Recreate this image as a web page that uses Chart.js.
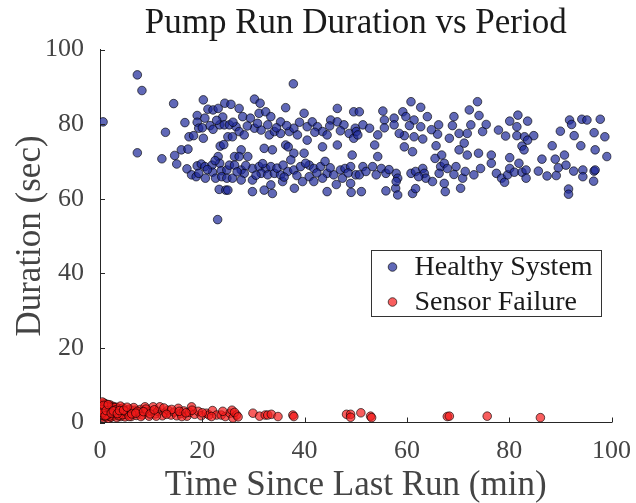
<!DOCTYPE html>
<html>
<head>
<meta charset="utf-8">
<script src="https://cdn.jsdelivr.net/npm/chart.js@4.4.1/dist/chart.umd.min.js"></script>
<style>
  html, body { margin: 0; padding: 0; background: #fff; }
</style>
</head>
<body>
<canvas id="chart" width="636" height="503"></canvas>
<script>
// time since last run (min), duration (sec)
const healthyPoints = [
  [0.6,80.6],[7.3,93.2],[8.2,89.0],[7.3,72.3],[12.8,77.8],[12.1,70.7],[14.4,85.5],[15.0,69.3],[14.6,71.6],[15.9,73.1],
  [17.2,73.3],[16.6,80.4],[17.4,76.6],[18.3,76.9],[19.0,82.3],[19.0,80.5],[19.3,78.9],[20.2,76.2],[20.2,86.5],[20.5,81.6],
  [21.1,84.0],[22.1,83.8],[23.1,84.2],[24.4,85.6],[21.5,79.6],[22.1,78.6],[23.4,79.8],[24.0,81.9],[24.3,79.8],[23.5,74.1],
  [24.2,74.5],[25.0,76.6],[17.0,68.0],[17.9,66.4],[18.8,65.9],[19.0,68.8],[19.3,66.8],[19.8,69.3],[20.5,68.6],[20.6,65.5],
  [21.9,69.0],[22.0,67.1],[22.6,65.5],[23.1,71.3],[23.4,69.5],[23.7,67.5],[23.8,65.9],[24.8,67.7],[24.8,65.5],[23.3,62.5],
  [24.6,62.3],[23.0,54.4],
  [30.2,86.7],[31.3,85.6],[27.2,84.2],[25.6,85.3],[36.3,84.4],[37.8,90.8],[39.9,82.9],[46.4,84.2],[49.6,83.3],[27.9,82.0],
  [29.4,81.6],[31.1,82.9],[32.4,83.3],[33.4,82.0],[35.3,80.6],[25.3,79.8],[26.6,79.3],[27.2,78.0],[25.9,76.6],[28.2,77.1],
  [30.2,78.9],[31.5,78.4],[32.8,79.8],[33.1,77.1],[34.1,78.0],[35.3,77.5],[37.0,78.0],[37.9,78.9],[38.6,77.1],[40.5,79.3],
  [41.5,80.6],[42.5,79.3],[43.5,78.0],[44.4,77.1],[45.1,81.1],[46.4,80.6],[47.7,79.8],[48.7,77.5],[49.6,76.2],[49.9,78.9],
  [40.5,75.7],[43.5,73.9],[46.4,74.4],[36.3,74.4],[36.8,73.9],[32.1,73.5],[33.7,73.1],[37.9,72.2],[39.9,72.2],[49.3,71.7],
  [27.6,73.1],
  [26.3,71.3],[27.2,71.3],[28.9,71.3],[25.3,69.0],[26.3,69.0],[27.6,67.7],[28.2,66.8],[29.8,68.1],[31.1,68.6],[32.4,68.1],
  [33.4,68.6],[31.5,66.8],[32.8,66.4],[34.1,66.8],[35.3,66.4],[36.7,67.3],[37.9,67.7],[39.2,68.6],[40.9,69.0],[41.8,68.1],
  [43.1,68.6],[44.4,66.8],[45.7,66.4],[47.0,67.7],[47.9,68.1],[49.0,68.6],[50.0,66.4],[47.4,65.5],[49.0,64.1],[29.8,65.0],
  [27.6,65.0],[25.9,65.5],[25.0,62.3],[29.8,61.9],[32.1,62.3],[33.7,61.4],[33.4,63.7],[35.7,64.6],[39.6,64.6],[40.9,65.9],
  [44.4,61.9],[49.1,61.7],[37.3,70.4],[40.2,69.5],[41.8,64.6],[43.5,65.5],
  [60.8,86.0],[62.7,84.5],[73.8,86.0],[72.2,83.8],[50.7,83.3],[55.3,83.5],[59.2,83.3],[59.8,82.0],[55.6,81.1],[57.5,81.6],
  [61.4,81.1],[64.0,82.0],[69.2,82.0],[74.1,82.3],[51.4,79.8],[52.7,78.9],[55.6,79.0],[57.5,79.8],[60.5,79.6],[62.7,79.3],
  [66.2,79.8],[68.9,79.6],[50.1,78.0],[50.4,77.1],[54.3,77.1],[59.5,76.9],[61.4,76.6],[63.1,76.0],[66.0,77.3],[68.3,76.2],
  [70.2,77.5],[71.8,77.5],[74.8,78.0],[53.7,74.4],[59.5,73.9],[61.1,72.6],[65.7,74.2],[70.2,73.1],[71.2,74.9],[71.8,71.7],
  [74.0,72.2],[66.8,71.7],
  [54.3,71.3],[51.4,68.6],[50.7,66.4],[52.0,67.3],[53.3,68.6],[55.0,68.1],[54.0,66.4],[55.9,66.8],[57.9,66.8],[58.2,65.5],
  [60.8,66.8],[61.7,67.3],[63.1,68.1],[63.4,66.8],[63.7,65.5],[65.0,64.6],[66.6,68.6],[67.3,69.5],[66.3,66.8],[67.9,68.1],
  [69.6,68.6],[69.2,66.5],[70.9,65.5],[71.4,67.3],[73.1,66.4],[74.4,68.1],[51.1,61.9],[55.9,62.1],[57.8,62.8],[58.2,61.0],
  [61.1,61.4],[61.7,62.7],[67.3,64.1],[67.5,61.9],[70.5,62.8],[57.9,64.6],[65.5,70.8],
  [81.7,82.4],[80.1,80.8],[83.6,80.8],[81.5,79.3],[75.5,79.9],[77.9,78.4],[79.3,76.8],[81.5,76.9],[83.0,76.6],[84.8,76.9],
  [83.6,75.7],[82.5,74.1],[82.9,73.1],[91.8,81.1],[92.2,79.9],[94.2,81.3],[95.2,81.1],[97.8,81.3],[90.0,78.1],[92.7,76.9],
  [96.6,77.7],[98.7,76.6],[94.0,74.2],[96.8,73.1],[99.1,71.3],[88.4,74.2],[90.8,71.7],[76.5,71.7],[80.1,71.0],[86.4,70.6],
  [89.0,70.6],[76.5,69.5],[81.9,69.5],
  [77.5,66.8],[78.5,65.5],[79.1,64.4],[79.7,66.4],[80.1,68.1],[81.0,67.1],[82.5,67.1],[83.3,67.7],[83.3,65.5],[85.7,67.4],
  [87.4,66.1],[89.2,66.2],[89.6,68.3],[91.1,69.0],[92.6,67.4],[94.4,67.7],[94.4,65.9],[96.6,67.4],[96.8,67.7],[96.5,64.7],
  [91.6,62.6],[91.6,61.2],
  [26.0,80.5],[28.8,79.5],[30.8,80.2],[34.5,79.0],[36.5,79.6],[39.0,80.5],[42.0,77.8],[44.9,79.5],[47.0,78.2],[26.8,67.2],
  [28.5,68.9],[30.5,66.3],[34.6,68.2],[36.0,65.8],[38.5,66.2],[42.4,66.9],[45.0,68.3],[48.5,66.9],[21.0,67.8],[22.5,70.2],
  [20.0,79.0],[22.8,81.0],[31.8,69.4],[35.8,69.0],[44.0,70.0],[46.2,63.8],[38.0,62.8],[56.5,67.8],[62.3,65.9],[64.8,78.5],
  [58.5,77.5],[72.5,79.8]
];

const failurePoints = [
  [0.1,4.8],[0.2,3.9],[0.3,2.5],[0.4,1.6],[0.5,4.2],[0.6,3.1],[0.7,1.2],[0.8,5.2],[0.9,2.2],[1.0,3.6],
  [1.1,4.6],[1.2,1.5],[1.3,2.9],[1.4,4.0],[1.5,2.0],[1.6,3.3],[1.7,1.1],[1.8,4.4],[1.9,2.6],[2.0,4.7],
  [2.1,3.0],[2.2,1.4],[2.3,3.8],[2.5,2.3],[2.6,4.3],[2.7,1.8],[2.9,3.4],
  [3.0,2.6],[3.2,4.1],[3.3,1.3],[3.5,3.0],[3.7,2.0],[3.9,3.7],[4.1,1.6],[4.3,2.8],[4.5,3.9],[4.7,2.2],[4.9,1.5],
  [5.2,3.2],[5.5,2.1],[5.8,3.6],[6.1,1.6],[6.4,2.7],[6.8,3.3],[7.1,1.9],[7.5,2.6],[7.9,3.5],[8.3,2.0],[8.8,4.2],
  [9.2,2.8],[9.6,1.7],[10.0,3.1],
  [10.4,4.2],[10.8,2.3],[11.3,3.0],[11.7,4.2],[12.2,1.8],[12.8,2.6],[13.3,3.3],[13.9,2.0],[14.5,2.8],[15.0,1.8],
  [15.3,3.8],[15.8,2.4],[16.4,3.1],[17.0,1.7],[17.5,2.7],[17.9,4.2],[18.5,2.2],[19.2,3.0],[19.8,1.8],
  [20.8,2.5],[21.3,2.0],[22.0,3.2],[22.8,2.0],[23.7,2.0],[24.5,1.6],[25.4,2.5],[25.8,3.3],[26.0,1.2],[26.7,2.0],
  [29.9,2.5],[31.2,1.7],[32.3,2.0],
  [32.8,2.0],[33.5,2.2],[34.8,1.6],[37.7,2.0],[37.9,1.6],[48.2,2.2],[49.0,2.2],[49.0,1.4],[51.0,2.6],[52.9,1.7],
  [53.1,1.3],[67.9,1.6],[68.3,1.7],[75.7,1.7],[86.1,1.3],
  [0.15,3.2],[0.35,4.5],[0.55,1.9],[0.75,3.8],[1.05,2.7],[1.25,4.9],[1.45,3.5],[1.65,2.4],[1.85,1.7],[2.05,3.9],
  [0.25,2.1],[0.45,5.5],[0.65,2.8],[0.95,4.4],[1.35,1.9],[1.55,4.2],[2.4,2.9],[2.8,4.0],[3.1,3.4],[3.6,1.8],
  [4.0,4.4],[4.4,2.1],[5.0,2.9],[5.7,1.6],[6.6,4.0],[7.3,3.0],[8.0,1.6],[9.0,3.6],[11.0,1.7],[12.5,3.9],
  [14.0,3.5],[16.0,1.6],[18.0,3.3],[20.0,2.6],[21.8,1.6],[24.0,3.0],[26.3,2.7],[27.0,1.5],
  [0.3,3.5],[0.5,2.6],[0.7,4.6],[1.0,1.8],[1.2,3.2],[1.6,4.8],[2.2,2.5],[2.6,3.1],[3.4,2.4],[3.8,3.2],
  [4.6,3.3],[5.3,4.1],[6.2,2.3],[7.0,2.5],[8.5,2.9],[9.8,2.3],[10.6,3.4],[13.0,2.2],[15.5,3.0],[16.8,2.6]
];

const seriesNames = ['Healthy System', 'Sensor Failure'];
const tickValues = [0, 20, 40, 60, 80, 100];

const serif = '"Liberation Serif", "DejaVu Serif", serif';
const axisColor = '#262626';
const textColor = '#444';

// MATLAB style ticks pointing into the axes
const innerTicks = {
    id: 'innerTicks',
    afterDatasetsDraw(chart) {
        const {ctx, chartArea, scales} = chart;
        ctx.save();
        ctx.strokeStyle = axisColor;
        ctx.lineWidth = 1;
        tickValues.forEach(v => {
            const x = Math.round(scales.x.getPixelForValue(v)) + 0.5;
            ctx.beginPath();
            ctx.moveTo(x, chartArea.bottom);
            ctx.lineTo(x, chartArea.bottom - 5);
            ctx.stroke();
            const y = Math.round(scales.y.getPixelForValue(v)) + 0.5;
            ctx.beginPath();
            ctx.moveTo(chartArea.left, y);
            ctx.lineTo(chartArea.left + 5, y);
            ctx.stroke();
        });
        ctx.restore();
    }
};

// legend box inside the axes
const boxLegend = {
    id: 'boxLegend',
    afterDraw(chart) {
        const {ctx} = chart;
        const left = 371.5, top = 250.5, w = 230, h = 66;
        ctx.save();
        ctx.fillStyle = '#fff';
        ctx.fillRect(left, top, w, h);
        ctx.strokeStyle = '#333';
        ctx.lineWidth = 1;
        ctx.strokeRect(left, top, w, h);
        ctx.font = '28px ' + serif;
        ctx.textBaseline = 'middle';
        chart.data.datasets.forEach((ds, i) => {
            const y = top + 16.5 + i * 35;
            ctx.beginPath();
            ctx.arc(left + 21, y, 4.3, 0, Math.PI * 2);
            ctx.fillStyle = ds.backgroundColor;
            ctx.fill();
            ctx.strokeStyle = ds.borderColor;
            ctx.lineWidth = ds.borderWidth;
            ctx.stroke();
            ctx.fillStyle = '#1a1a1a';
            ctx.fillText(ds.label, left + 43, y + 1);
        });
        ctx.restore();
    }
};

new Chart(document.getElementById('chart'), {
    type: 'scatter',
    data: {
        datasets: [
            {
                label: seriesNames[0],
                data: healthyPoints.map(p => ({x: p[0], y: p[1]})),
                backgroundColor: 'rgba(28,40,152,0.7)',
                borderColor: 'rgba(0,0,0,0.7)',
                borderWidth: 0.9,
                pointRadius: 4.3
            },
            {
                label: seriesNames[1],
                data: failurePoints.map(p => ({x: p[0], y: p[1]})),
                backgroundColor: 'rgba(245,25,25,0.7)',
                borderColor: 'rgba(0,0,0,0.7)',
                borderWidth: 0.9,
                pointRadius: 4.3
            }
        ]
    },
    options: {
        responsive: false,
        animation: false,
        events: [],
        layout: {padding: {top: 0, right: 22.5, left: 0, bottom: 0}},
        plugins: {
            legend: {display: false},
            tooltip: {enabled: false},
            title: {
                display: true,
                text: 'Pump Run Duration vs Period',
                fullSize: false,
                color: '#1a1a1a',
                font: {family: serif, size: 35, weight: 'normal'},
                padding: {top: 3, bottom: 4.5}
            }
        },
        scales: {
            x: {
                type: 'linear',
                min: 0, max: 100,
                afterFit: s => { s.height = 80.5; },
                afterBuildTicks: s => { s.ticks = tickValues.map(v => ({value: v})); },
                grid: {display: false},
                border: {display: true, color: axisColor, width: 1},
                ticks: {color: textColor, padding: 5, font: {family: serif, size: 26}},
                title: {
                    display: true,
                    text: 'Time Since Last Run (min)',
                    color: textColor,
                    font: {family: serif, size: 35},
                    padding: {top: 0, bottom: -4}
                }
            },
            y: {
                min: 0, max: 100,
                afterFit: s => { s.width = 100; },
                afterBuildTicks: s => { s.ticks = tickValues.map(v => ({value: v})); },
                grid: {display: false},
                border: {display: true, color: axisColor, width: 1},
                ticks: {color: textColor, padding: 8, font: {family: serif, size: 26}},
                title: {
                    display: true,
                    text: 'Duration (sec)',
                    color: textColor,
                    font: {family: serif, size: 35},
                    padding: {top: 10, bottom: 0}
                }
            }
        }
    },
    plugins: [innerTicks, boxLegend]
});
</script>
</body>
</html>
